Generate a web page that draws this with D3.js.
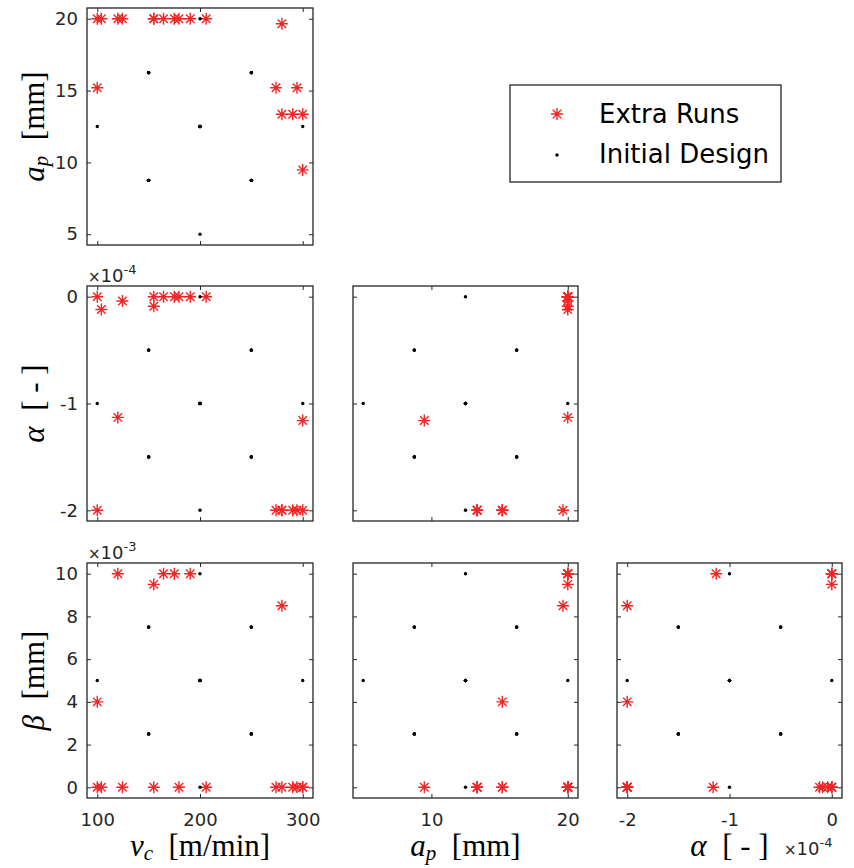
<!DOCTYPE html>
<html>
<head>
<meta charset="utf-8">
<script src="https://cdn.jsdelivr.net/npm/d3@7"></script>
<style>
  body { margin: 0; background: #fff; }
</style>
</head>
<body>
<div id="chart"></div>
<script>
// Initial design (central composite design), alpha in 1e-4, beta in 1e-3
const initVc    = [150, 250, 150, 250, 150, 250, 150, 250, 150, 250, 150, 250, 150, 250, 150, 250, 100, 300, 200, 200, 200, 200, 200, 200, 200];
const initAp    = [8.75, 8.75, 16.25, 16.25, 8.75, 8.75, 16.25, 16.25, 8.75, 8.75, 16.25, 16.25, 8.75, 8.75, 16.25, 16.25, 12.5, 12.5, 5, 20, 12.5, 12.5, 12.5, 12.5, 12.5];
const initAlpha = [-1.5, -1.5, -1.5, -1.5, -0.5, -0.5, -0.5, -0.5, -1.5, -1.5, -1.5, -1.5, -0.5, -0.5, -0.5, -0.5, -1, -1, -1, -1, -2, 0, -1, -1, -1];
const initBeta  = [2.5, 2.5, 2.5, 2.5, 2.5, 2.5, 2.5, 2.5, 7.5, 7.5, 7.5, 7.5, 7.5, 7.5, 7.5, 7.5, 5, 5, 5, 5, 5, 5, 0, 10, 5];

// Extra runs
const extraVc    = [100, 100, 104, 120, 124.5, 155, 155, 164.5, 175, 179.5, 190.5, 206, 279.7, 274, 294.4, 279.7, 290.2, 300, 300];
const extraAp    = [20, 15.2, 20, 20, 20, 20, 20, 20, 20, 20, 20, 20, 19.65, 15.2, 15.2, 13.35, 13.35, 13.35, 9.48];
const extraAlpha = [0, -2, -0.12, -1.13, -0.04, 0, -0.09, 0, 0, 0, 0, 0, -2, -2, -2, -2, -2, -2, -1.16];
const extraBeta  = [0, 4, 0, 10, 0, 9.5, 0, 10, 10, 0, 10, 0, 8.5, 0, 0, 0, 0, 0, 0];

const vcTicks = [100, 200, 300];
const apTicksY = [5, 10, 15, 20];
const apTicksX = [10, 20];
const alphaTicks = [-2, -1, 0];
const betaTicks = [0, 2, 4, 6, 8, 10];

const vars = {
  vc:    { key: "vc",    domain: [90, 310],      xTicks: vcTicks,    yTicks: vcTicks },
  ap:    { key: "ap",    domain: [4.25, 20.75],  xTicks: apTicksX,   yTicks: apTicksY },
  alpha: { key: "alpha", domain: [-2.1, 0.1],    xTicks: alphaTicks, yTicks: alphaTicks },
  beta:  { key: "beta",  domain: [-0.5, 10.5],   xTicks: betaTicks,  yTicks: betaTicks }
};

const colVars = ["vc", "ap", "alpha"];
const rowVars = ["ap", "alpha", "beta"];
const colX = [[87, 313], [353, 578], [617, 842]];
const rowY = [[8, 245], [286, 521], [563, 798]];

const initial = initVc.map((v, i) => ({ vc: v, ap: initAp[i], alpha: initAlpha[i], beta: initBeta[i] }));
const extra = extraVc.map((v, i) => ({ vc: v, ap: extraAp[i], alpha: extraAlpha[i], beta: extraBeta[i] }));

const RED = "#f02525";
const INK = "#262626";
const SANS = "'DejaVu Sans', sans-serif";
const SERIF = "'Liberation Serif', serif";
const plain = d => String(d);   // keeps "-1" with a hyphen like matlab

// 8-spoke asterisk like matlab's '*' marker
const asterisk = {
  draw(ctx, size) {
    const r = Math.sqrt(size) / 2;
    const d = r * Math.SQRT1_2;
    ctx.moveTo(-r, 0); ctx.lineTo(r, 0);
    ctx.moveTo(0, -r); ctx.lineTo(0, r);
    ctx.moveTo(-d, -d); ctx.lineTo(d, d);
    ctx.moveTo(-d, d); ctx.lineTo(d, -d);
  }
};
const star = d3.symbol().type(asterisk).size(144);

const svg = d3.select("#chart").append("svg")
  .attr("width", 854)
  .attr("height", 868);

function styleAxis(g) {
  g.select(".domain").remove();
  g.selectAll("line").attr("stroke", INK);
  g.selectAll("text").attr("fill", INK).attr("font-family", SANS).attr("font-size", 18);
}

for (let r = 0; r < 3; r++) {
  for (let c = 0; c <= r; c++) {
    const xv = vars[colVars[c]], yv = vars[rowVars[r]];
    const [x0, x1] = colX[c], [y0, y1] = rowY[r];
    const w = x1 - x0, h = y1 - y0;

    const x = d3.scaleLinear().domain(xv.domain).range([0, w]);
    const y = d3.scaleLinear().domain(yv.domain).range([h, 0]);

    const g = svg.append("g").attr("transform", `translate(${x0},${y0})`);

    g.append("rect")
      .attr("width", w).attr("height", h)
      .attr("fill", "#fff");

    // Axes (ticks inward, labels only on outer panels)
    g.append("g").attr("transform", `translate(0,${h})`)
      .call(d3.axisBottom(x).tickValues(xv.xTicks).tickSize(-4).tickPadding(15)
        .tickFormat(r === 2 ? plain : ""))
      .call(styleAxis);
    g.append("g")
      .call(d3.axisTop(x).tickValues(xv.xTicks).tickSize(-4).tickFormat(""))
      .call(styleAxis);
    g.append("g")
      .call(d3.axisLeft(y).tickValues(yv.yTicks).tickSize(-4).tickPadding(9)
        .tickFormat(c === 0 ? plain : ""))
      .call(styleAxis);
    g.append("g").attr("transform", `translate(${w},0)`)
      .call(d3.axisRight(y).tickValues(yv.yTicks).tickSize(-4).tickFormat(""))
      .call(styleAxis);

    // Extra runs
    g.selectAll(".extra")
      .data(extra)
      .join("path")
      .attr("class", "extra")
      .attr("d", star)
      .attr("transform", d => `translate(${x(d[xv.key])},${y(d[yv.key])})`)
      .attr("fill", "none")
      .attr("stroke", RED)
      .attr("stroke-width", 1.4);

    // Initial design
    g.selectAll(".init")
      .data(initial)
      .join("circle")
      .attr("class", "init")
      .attr("cx", d => x(d[xv.key]))
      .attr("cy", d => y(d[yv.key]))
      .attr("r", 1.7)
      .attr("fill", "#000");

    g.append("rect")
      .attr("width", w).attr("height", h)
      .attr("fill", "none")
      .attr("stroke", INK)
      .attr("stroke-width", 1.3);
  }
}

// Exponent labels
function expLabel(x, y, exp) {
  const t = svg.append("text")
    .attr("x", x).attr("y", y)
    .attr("font-family", SANS)
    .attr("fill", INK);
  t.append("tspan").attr("font-size", 15).text("\u00d7");
  t.append("tspan").attr("font-size", 18).text("10");
  t.append("tspan").attr("font-size", 13).attr("dy", -8).text(exp);
}
expLabel(88, 281.5, "-4");
expLabel(88, 559, "-3");
expLabel(784, 855, "-4");

// Axis titles (math style)
function mathLabel(sel, base, sub, rest) {
  const t = sel.attr("font-family", SERIF).attr("font-size", 31).attr("fill", "#000")
    .attr("text-anchor", "middle");
  t.append("tspan").attr("font-style", "italic").text(base);
  if (sub) {
    t.append("tspan").attr("font-style", "italic").attr("font-size", 21).attr("dy", 4).text(sub);
    t.append("tspan").attr("dy", -4).text("\u2002" + rest);
  } else {
    t.append("tspan").text("\u2002" + rest);
  }
}

mathLabel(svg.append("text").attr("x", (colX[0][0] + colX[0][1]) / 2).attr("y", 856), "v", "c", "[m/min]");
mathLabel(svg.append("text").attr("x", (colX[1][0] + colX[1][1]) / 2).attr("y", 856), "a", "p", "[mm]");
mathLabel(svg.append("text").attr("x", (colX[2][0] + colX[2][1]) / 2).attr("y", 856), "\u03b1", null, "[ - ]");

const yLabels = [["a", "p", "[mm]"], ["\u03b1", null, "[ - ]"], ["\u03b2", null, "[mm]"]];
yLabels.forEach((l, i) => {
  const cy = (rowY[i][0] + rowY[i][1]) / 2;
  mathLabel(svg.append("text").attr("transform", `translate(44,${cy}) rotate(-90)`), l[0], l[1], l[2]);
});

// Legend
const leg = svg.append("g");
leg.append("rect")
  .attr("x", 510).attr("y", 85).attr("width", 271).attr("height", 97)
  .attr("fill", "#fff").attr("stroke", INK).attr("stroke-width", 1.3);
leg.append("path")
  .attr("d", star)
  .attr("transform", "translate(557,114)")
  .attr("fill", "none").attr("stroke", RED).attr("stroke-width", 1.4);
leg.append("circle")
  .attr("cx", 557).attr("cy", 155).attr("r", 1.7).attr("fill", "#000");
leg.append("text").attr("x", 599).attr("y", 123)
  .attr("font-family", SANS).attr("font-size", 26).attr("fill", "#000")
  .text("Extra Runs");
leg.append("text").attr("x", 599).attr("y", 163)
  .attr("font-family", SANS).attr("font-size", 26).attr("fill", "#000")
  .text("Initial Design");
</script>
</body>
</html>
